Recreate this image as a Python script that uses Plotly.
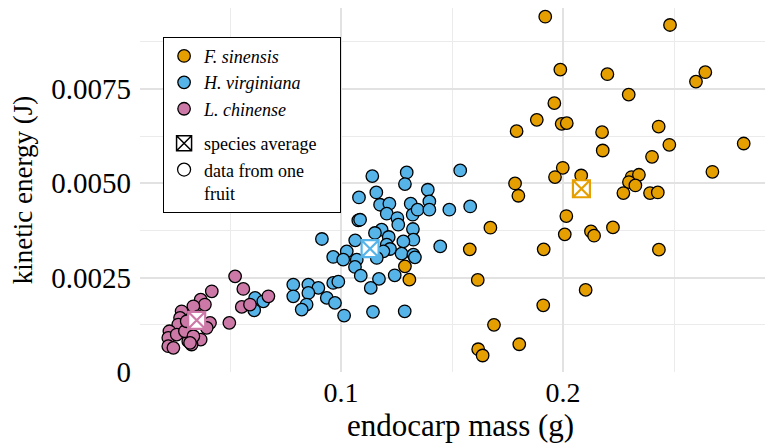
import plotly.graph_objects as go

# endocarp mass (g) and kinetic energy (J), one point per fruit
sinensis_mass = [0.1920, 0.2482, 0.1988, 0.2200, 0.2641, 0.2599, 0.2296, 0.1961, 0.1882, 0.1994,
                 0.2017, 0.1791, 0.2176, 0.2431, 0.2179, 0.2479, 0.2814, 0.2401, 0.2673, 0.1999,
                 0.1964, 0.2082, 0.1784, 0.1799, 0.2309, 0.2342, 0.2297, 0.2326, 0.2272, 0.2392,
                 0.2427, 0.1673, 0.2015, 0.2008, 0.2126, 0.2140, 0.2225, 0.2432, 0.1580, 0.1913,
                 0.1616, 0.2102, 0.1911, 0.1689, 0.1803, 0.1618, 0.1638, 0.1288, 0.1308]
sinensis_energy = [0.009413, 0.009193, 0.008011, 0.007889, 0.007942, 0.007693, 0.007349, 0.007122,
                   0.006680, 0.006574, 0.006593, 0.006381, 0.006354, 0.006503, 0.005868, 0.006019,
                   0.006053, 0.005701, 0.005304, 0.005410, 0.005164, 0.005206, 0.004995, 0.004669,
                   0.005164, 0.005225, 0.005032, 0.004942, 0.004741, 0.004741, 0.004757, 0.003823,
                   0.004132, 0.003646, 0.003725, 0.003611, 0.003831, 0.003241, 0.003249, 0.003249,
                   0.002439, 0.002175, 0.001767, 0.001249, 0.000735, 0.000603, 0.000437, 0.002799,
                   0.002447]

virginiana_mass = [0.1141, 0.1296, 0.1288, 0.1537, 0.1159, 0.1081, 0.1391, 0.1398, 0.1488, 0.1582,
                   0.1314, 0.1176, 0.1218, 0.1206, 0.1254, 0.1258, 0.1323, 0.1345, 0.1398, 0.1078,
                   0.1086, 0.1324, 0.1183, 0.1153, 0.1326, 0.1215, 0.1281, 0.1206, 0.1064, 0.0914,
                   0.1447, 0.1221, 0.1191, 0.1273, 0.1326, 0.1333, 0.1161, 0.1026, 0.0965, 0.1010,
                   0.1071, 0.1063, 0.1089, 0.1242, 0.1171, 0.1134, 0.0965, 0.0988, 0.0785, 0.0853,
                   0.0898, 0.0853, 0.0785, 0.0936, 0.0973, 0.0845, 0.0823, 0.1014, 0.1144, 0.1287,
                   0.0613, 0.0650, 0.0609]
virginiana_energy = [0.005190, 0.005286, 0.004979, 0.005339, 0.004757, 0.004624, 0.004828, 0.004519,
                     0.004299, 0.004386, 0.004458, 0.004431, 0.004458, 0.004193, 0.004079, 0.003902,
                     0.004167, 0.004299, 0.004299, 0.004016, 0.004034, 0.003788, 0.003770, 0.003683,
                     0.003505, 0.003577, 0.003460, 0.003373, 0.003487, 0.003524, 0.003328, 0.003259,
                     0.003196, 0.003135, 0.003108, 0.003037, 0.003021, 0.003196, 0.003048, 0.002976,
                     0.002976, 0.002783, 0.002553, 0.002561, 0.002466, 0.002228, 0.002360, 0.002394,
                     0.002315, 0.002315, 0.002228, 0.002095, 0.002005, 0.001963, 0.001831, 0.001786,
                     0.001653, 0.001495, 0.001593, 0.001608, 0.001963, 0.001873, 0.001635]

chinense_mass = [0.0523, 0.0560, 0.0673, 0.0553, 0.0590, 0.0497, 0.0418, 0.0368, 0.0387, 0.0335,
                 0.0282, 0.0275, 0.0290, 0.0267, 0.0410, 0.0395, 0.0227, 0.0222, 0.0260, 0.0312,
                 0.0368, 0.0327, 0.0222, 0.0245, 0.0297, 0.0335, 0.0357, 0.0305, 0.0320]
chinense_energy = [0.002534, 0.002201, 0.002005, 0.001725, 0.001786, 0.001302, 0.002138, 0.001918,
                   0.001786, 0.001741, 0.001608, 0.001434, 0.001212, 0.001257, 0.001302, 0.001169,
                   0.001079, 0.000905, 0.000992, 0.000815, 0.000860, 0.000728, 0.000683, 0.000640,
                   0.001079, 0.000947, 0.001476, 0.001344, 0.000772]

# species averages
avg_mass = [0.2083, 0.1131, 0.0350]
avg_energy = [0.004854, 0.003267, 0.001370]

species = ["<i>F. sinensis</i>", "<i>H. virginiana</i>", "<i>L. chinense</i>"]
colors = ["#E69F00", "#56B4E9", "#CC79A7"]

y_ticks = [0, 0.0025, 0.005, 0.0075]
y_ticklabels = ["0", "0.0025", "0.0050", "0.0075"]
x_ticks = [0.1, 0.2]
x_ticklabels = ["0.1", "0.2"]

serif = "Liberation Serif"

fig = go.Figure()
for name, xs, ys, c in zip(
    species,
    [sinensis_mass, virginiana_mass, chinense_mass],
    [sinensis_energy, virginiana_energy, chinense_energy],
    colors,
):
    fig.add_trace(
        go.Scatter(
            x=xs,
            y=ys,
            mode="markers",
            name=name,
            legendgroup="species",
            marker=dict(size=12.5, color=c, line=dict(color="black", width=1.3)),
        )
    )

fig.add_trace(
    go.Scatter(
        x=avg_mass,
        y=avg_energy,
        mode="markers",
        showlegend=False,
        marker=dict(
            symbol="square-x",
            size=17,
            color="white",
            line=dict(color=colors, width=2.2),
        ),
    )
)

# legend-only keys
fig.add_trace(
    go.Scatter(
        x=[None],
        y=[None],
        mode="markers",
        name="species average&nbsp;&nbsp;&nbsp;&nbsp;",
        legendgroup="key",
        marker=dict(symbol="square-x-open", size=15, color="black", line=dict(width=1.5)),
    )
)
fig.add_trace(
    go.Scatter(
        x=[None],
        y=[None],
        mode="markers",
        name="data from one<br>fruit",
        legendgroup="key",
        marker=dict(size=13, color="white", line=dict(color="black", width=1.3)),
    )
)

# the page body adds 8px on top/left, so the plot box is set up to land where it should
fig.update_layout(
    width=773,
    height=448,
    margin=dict(l=132, r=0, t=0, b=83.5, autoexpand=False),
    plot_bgcolor="white",
    paper_bgcolor="white",
    font=dict(family=serif, color="black"),
    showlegend=True,
    legend=dict(
        x=0.036,
        y=0.921,
        xanchor="left",
        yanchor="top",
        bgcolor="white",
        bordercolor="black",
        borderwidth=1,
        font=dict(family=serif, size=18),
        traceorder="grouped",
        tracegroupgap=8,
        itemwidth=30,
        valign="top",
    ),
    xaxis=dict(
        range=[0.00946, 0.2982],
        tickvals=x_ticks,
        ticktext=x_ticklabels,
        tickfont=dict(size=28),
        ticklabelstandoff=1,
        showgrid=True,
        gridcolor="#e2e2e2",
        gridwidth=1.5,
        minor=dict(dtick=0.05, tick0=0, showgrid=True, gridcolor="#ebebeb", gridwidth=1),
        zeroline=False,
        showline=False,
        ticks="",
        automargin=False,
        title=dict(text="endocarp mass (g)", font=dict(size=31), standoff=0),
    ),
    yaxis=dict(
        range=[0, 0.009643],
        tickvals=y_ticks,
        ticktext=y_ticklabels,
        tickfont=dict(size=29),
        ticklabelstandoff=8,
        showgrid=True,
        gridcolor="#e2e2e2",
        gridwidth=1.5,
        minor=dict(dtick=0.00125, tick0=0, showgrid=True, gridcolor="#ebebeb", gridwidth=1),
        zeroline=False,
        showline=False,
        ticks="",
        automargin=False,
        title=dict(text="kinetic energy (J)", font=dict(size=27), standoff=14),
    ),
)

fig.write_html("out.html")
